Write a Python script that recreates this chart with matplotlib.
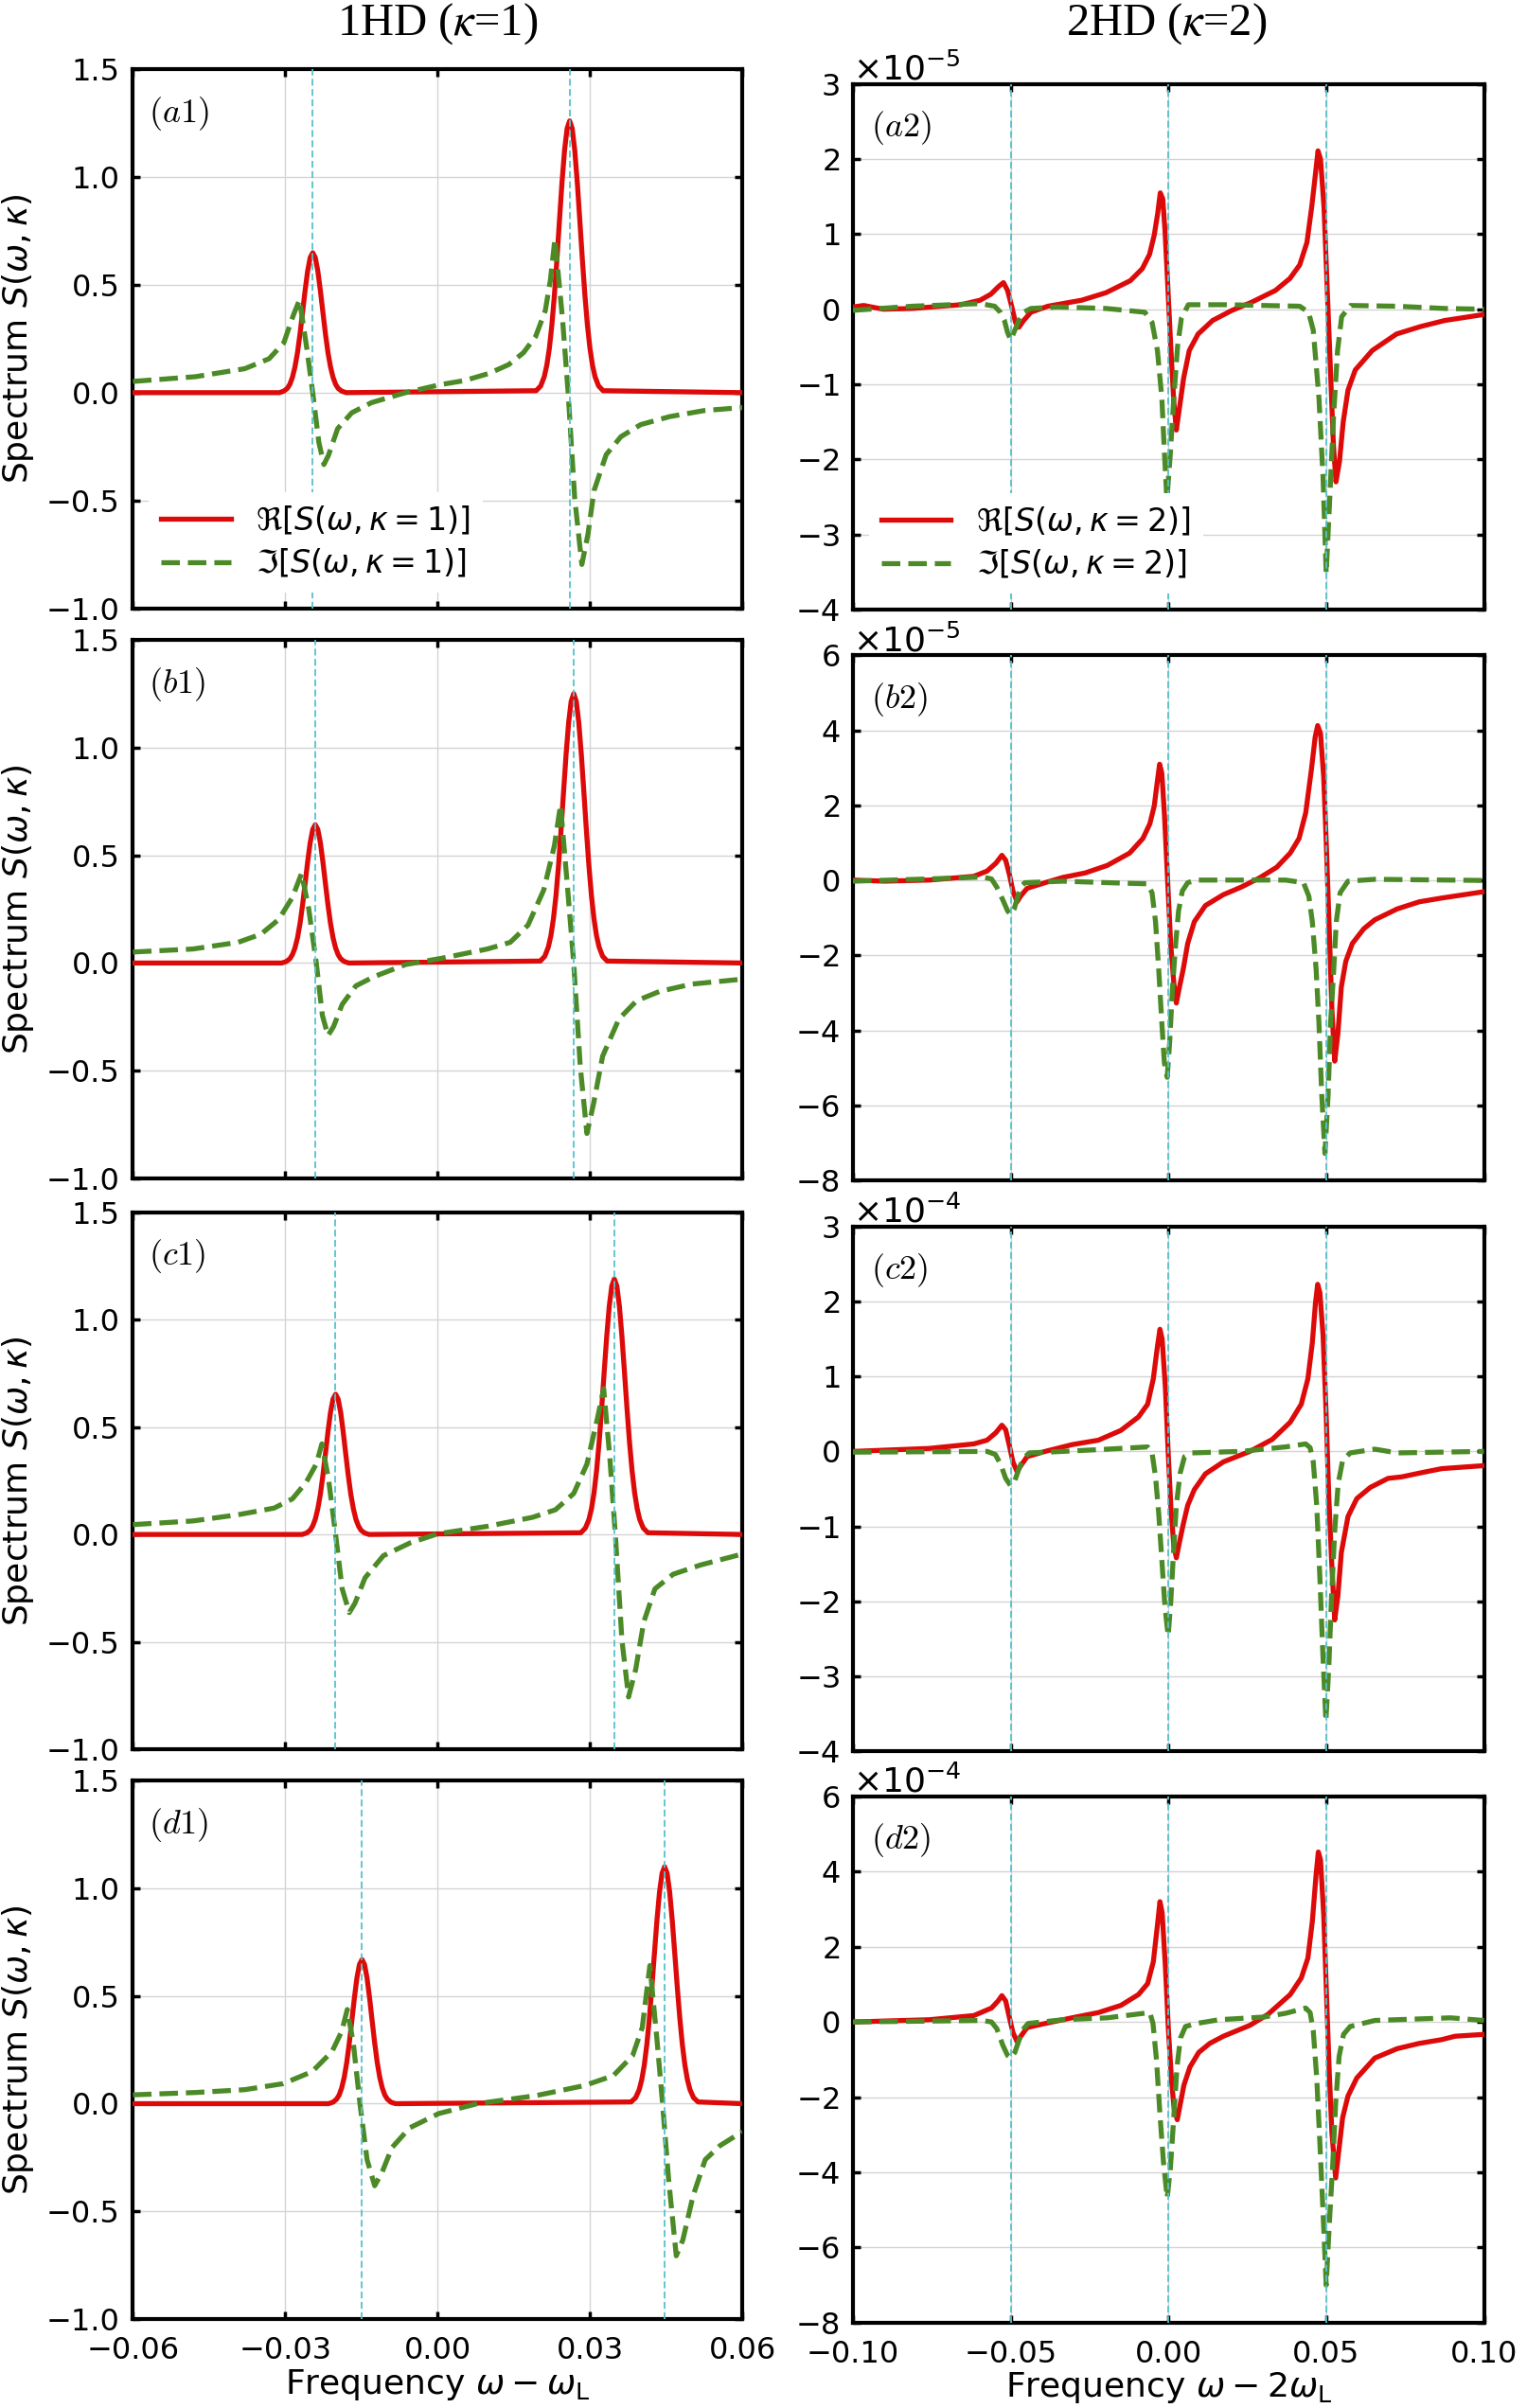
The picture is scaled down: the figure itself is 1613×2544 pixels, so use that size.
import matplotlib
matplotlib.use('Agg')
import matplotlib.pyplot as plt

plt.rcParams['font.family'] = 'DejaVu Sans'
plt.rcParams['mathtext.fontset'] = 'dejavusans'
plt.rcParams['xtick.labelsize'] = 23
plt.rcParams['ytick.labelsize'] = 23

# ---------------- 1HD panels (kappa = 1), x = omega - omega_L ----------------
re_x_a1 = [-0.06,
           -0.0312, -0.0303, -0.0296, -0.0291, -0.0286, -0.0281, -0.0276, -0.0271, -0.0266, -0.0261, -0.0256,
           -0.0251, -0.0246, -0.0241, -0.0236, -0.0231, -0.0226, -0.0221, -0.0216, -0.0211, -0.0206, -0.0201,
           -0.0196, -0.0189, -0.018,
           0.0194, 0.0203, 0.021, 0.0215, 0.022, 0.0225, 0.023, 0.0235, 0.024, 0.0245, 0.025, 0.0255, 0.026,
           0.0265, 0.027, 0.0275, 0.028, 0.0285, 0.029, 0.0295, 0.03, 0.0305, 0.031, 0.0317, 0.0326,
           0.06]
re_y_a1 = [0.0,
           0.0, 0.007, 0.02, 0.039, 0.071, 0.119, 0.186, 0.273, 0.373, 0.474, 0.564, 0.626, 0.648,
           0.626, 0.564, 0.474, 0.373, 0.273, 0.186, 0.119, 0.071, 0.039, 0.02, 0.007, 0.0,
           0.009, 0.031, 0.074, 0.127, 0.205, 0.313, 0.453, 0.619, 0.8, 0.976, 1.124, 1.224, 1.259,
           1.224, 1.124, 0.976, 0.8, 0.619, 0.453, 0.313, 0.205, 0.127, 0.074, 0.031, 0.009,
           0.0]
im_x_a1 = [-0.06, -0.0477, -0.038, -0.0332, -0.0303, -0.0284, -0.0272, -0.0258, -0.0246, -0.0234, -0.0224,
           -0.0215, -0.0197, -0.0169, -0.013, -0.0091, -0.0063, 0.0005, 0.0053, 0.0101, 0.014, 0.0169, 0.0193,
           0.0212, 0.0222, 0.0231, 0.0246, 0.0257, 0.027, 0.0284, 0.0296, 0.0308, 0.0332, 0.0361, 0.04, 0.0457,
           0.0525, 0.06]
im_y_a1 = [0.052, 0.074, 0.111, 0.157, 0.231, 0.36, 0.43, 0.21, 0.0, -0.23, -0.333, -0.29, -0.167, -0.093,
           -0.046, -0.019, 0.0, 0.037, 0.056, 0.089, 0.13, 0.185, 0.26, 0.38, 0.52, 0.713, 0.34, 0.0, -0.49,
           -0.796, -0.657, -0.454, -0.287, -0.204, -0.148, -0.111, -0.083, -0.069]

re_x_b1 = [-0.06,
           -0.0307, -0.0298, -0.0291, -0.0286, -0.0281, -0.0276, -0.0271, -0.0266, -0.0261, -0.0256, -0.0251,
           -0.0246, -0.0241, -0.0236, -0.0231, -0.0226, -0.0221, -0.0216, -0.0211, -0.0206, -0.0201, -0.0196,
           -0.0191, -0.0184, -0.0175,
           0.0202, 0.0211, 0.0218, 0.0223, 0.0228, 0.0233, 0.0238, 0.0243, 0.0248, 0.0253, 0.0258, 0.0263,
           0.0268, 0.0273, 0.0278, 0.0283, 0.0288, 0.0293, 0.0298, 0.0303, 0.0308, 0.0313, 0.0318, 0.0325,
           0.0334,
           0.06]
re_y_b1 = [0.0,
           0.0, 0.007, 0.02, 0.039, 0.07, 0.117, 0.184, 0.27, 0.369, 0.47, 0.559, 0.62, 0.642,
           0.62, 0.559, 0.47, 0.369, 0.27, 0.184, 0.117, 0.07, 0.039, 0.02, 0.007, 0.0,
           0.009, 0.031, 0.074, 0.126, 0.204, 0.311, 0.45, 0.615, 0.794, 0.969, 1.116, 1.215, 1.25,
           1.215, 1.116, 0.969, 0.794, 0.615, 0.45, 0.311, 0.204, 0.126, 0.074, 0.031, 0.009,
           0.0]
im_x_b1 = [-0.06, -0.0482, -0.0393, -0.0348, -0.0313, -0.0286, -0.0268, -0.0254, -0.0239, -0.0227, -0.0216,
           -0.0205, -0.0188, -0.0161, -0.0125, -0.0063, 0.0008, 0.0098, 0.0143, 0.0178, 0.0209, 0.023, 0.0242,
           0.0255, 0.0268, 0.0281, 0.0294, 0.0307, 0.0325, 0.0357, 0.0392, 0.0437, 0.05, 0.06]
im_y_b1 = [0.051, 0.065, 0.096, 0.134, 0.202, 0.305, 0.416, 0.253, 0.0, -0.243, -0.337, -0.295, -0.192,
           -0.106, -0.063, -0.007, 0.022, 0.065, 0.096, 0.176, 0.339, 0.545, 0.733, 0.373, 0.0, -0.483, -0.791,
           -0.654, -0.432, -0.26, -0.175, -0.132, -0.098, -0.075]

re_x_c1 = [-0.06,
           -0.0267, -0.0258, -0.0251, -0.0246, -0.0241, -0.0236, -0.0231, -0.0226, -0.0221, -0.0216, -0.0211,
           -0.0206, -0.0201, -0.0196, -0.0191, -0.0186, -0.0181, -0.0176, -0.0171, -0.0166, -0.0161, -0.0156,
           -0.0151, -0.0144, -0.0135,
           0.0282, 0.0291, 0.0298, 0.0303, 0.0308, 0.0313, 0.0318, 0.0323, 0.0328, 0.0333, 0.0338, 0.0343,
           0.0348, 0.0353, 0.0358, 0.0363, 0.0368, 0.0373, 0.0378, 0.0383, 0.0388, 0.0393, 0.0398, 0.0405,
           0.0414,
           0.06]
re_y_c1 = [0.0,
           0.0, 0.007, 0.02, 0.04, 0.071, 0.12, 0.187, 0.275, 0.375, 0.478, 0.569, 0.631, 0.653,
           0.631, 0.569, 0.478, 0.375, 0.275, 0.187, 0.12, 0.071, 0.04, 0.02, 0.007, 0.0,
           0.008, 0.03, 0.07, 0.12, 0.194, 0.296, 0.428, 0.585, 0.756, 0.922, 1.063, 1.157, 1.19,
           1.157, 1.063, 0.922, 0.756, 0.585, 0.428, 0.296, 0.194, 0.12, 0.07, 0.03, 0.008,
           0.0]
im_x_c1 = [-0.06, -0.0482, -0.0393, -0.0322, -0.0286, -0.0259, -0.0239, -0.0228, -0.0215, -0.0201, -0.0188,
           -0.0174, -0.0163, -0.0143, -0.0107, -0.0054, 0.0, 0.0098, 0.0187, 0.0232, 0.0268, 0.0294, 0.0314,
           0.0327, 0.0339, 0.035, 0.0363, 0.0376, 0.039, 0.0406, 0.0428, 0.0464, 0.0518, 0.06]
im_y_c1 = [0.046, 0.063, 0.092, 0.123, 0.166, 0.243, 0.328, 0.422, 0.26, 0.0, -0.253, -0.364, -0.321,
           -0.202, -0.099, -0.039, 0.003, 0.038, 0.08, 0.115, 0.191, 0.328, 0.533, 0.679, 0.362, 0.0, -0.492,
           -0.757, -0.629, -0.407, -0.253, -0.185, -0.142, -0.091]

re_x_d1 = [-0.06,
           -0.0215, -0.0206, -0.0199, -0.0194, -0.0189, -0.0184, -0.0179, -0.0174, -0.0169, -0.0164, -0.0159,
           -0.0154, -0.0149, -0.0144, -0.0139, -0.0134, -0.0129, -0.0124, -0.0119, -0.0114, -0.0109, -0.0104,
           -0.0099, -0.0092, -0.0083,
           0.0381, 0.039, 0.0397, 0.0402, 0.0407, 0.0412, 0.0417, 0.0422, 0.0427, 0.0432, 0.0437, 0.0442,
           0.0447, 0.0452, 0.0457, 0.0462, 0.0467, 0.0472, 0.0477, 0.0482, 0.0487, 0.0492, 0.0497, 0.0504,
           0.0513,
           0.06]
re_y_d1 = [0.0,
           0.0, 0.007, 0.021, 0.04, 0.073, 0.122, 0.192, 0.282, 0.385, 0.49, 0.583, 0.646, 0.669,
           0.646, 0.583, 0.49, 0.385, 0.282, 0.192, 0.122, 0.073, 0.04, 0.021, 0.007, 0.0,
           0.008, 0.028, 0.065, 0.111, 0.179, 0.274, 0.396, 0.541, 0.699, 0.853, 0.982, 1.069, 1.10,
           1.069, 0.982, 0.853, 0.699, 0.541, 0.396, 0.274, 0.179, 0.111, 0.065, 0.028, 0.008,
           0.0]
im_x_d1 = [-0.06, -0.0476, -0.038, -0.0304, -0.0247, -0.0208, -0.0189, -0.0178, -0.0166, -0.0153, -0.0139,
           -0.0124, -0.0109, -0.009, -0.0055, 0.0002, 0.0078, 0.0193, 0.0289, 0.0346, 0.0384, 0.0403, 0.0418,
           0.0432, 0.0443, 0.0455, 0.047, 0.0483, 0.0503, 0.0527, 0.0556, 0.06]
im_y_d1 = [0.041, 0.052, 0.065, 0.093, 0.149, 0.242, 0.335, 0.437, 0.279, 0.0, -0.26, -0.381, -0.316,
           -0.204, -0.112, -0.046, 0.0, 0.037, 0.084, 0.13, 0.223, 0.353, 0.641, 0.297, 0.0, -0.353, -0.706,
           -0.632, -0.428, -0.26, -0.195, -0.13]

# resonance positions (cyan dashed lines)
res_1 = [[-0.0246, 0.026], [-0.0241, 0.0268], [-0.0201, 0.0348], [-0.0149, 0.0447]]

# ---------------- 2HD panels (kappa = 2), x = omega - 2 omega_L ----------------
# values in units of scale_2
scale_2 = [1e-5, 1e-5, 1e-4, 1e-4]

re_x_a2 = [-0.1, -0.0966, -0.0904, -0.0812, -0.0658, -0.0597, -0.0563, -0.0539, -0.0523, -0.051,
           -0.0497, -0.0485, -0.0474, -0.0459, -0.0436, -0.0382, -0.0275, -0.0198, -0.0121, -0.0083,
           -0.006, -0.0045, -0.0034, -0.0026, -0.0018, -0.0011, -0.0002, 0.0008, 0.0017, 0.0025,
           0.0032, 0.0048, 0.0066, 0.0094, 0.014, 0.0201, 0.0262, 0.0339, 0.0385, 0.0416,
           0.0439, 0.0454, 0.0467, 0.0474, 0.0482, 0.0493, 0.0503, 0.0513, 0.0523, 0.0531,
           0.0542, 0.0554, 0.0569, 0.0592, 0.0646, 0.0723, 0.08, 0.0876, 0.1]
re_y_a2 = [0.03, 0.05, 0.0, 0.01, 0.06, 0.12, 0.2, 0.3, 0.355, 0.25,
           0.04, -0.175, -0.24, -0.15, -0.04, 0.04, 0.12, 0.22, 0.38, 0.54,
           0.73, 0.99, 1.28, 1.55, 1.47, 1.05, 0.3, -0.55, -1.24, -1.61,
           -1.4, -0.92, -0.55, -0.33, -0.15, -0.016, 0.09, 0.25, 0.41, 0.59,
           0.89, 1.36, 1.84, 2.11, 2.0, 1.36, 0.3, -0.76, -1.82, -2.3,
           -2.03, -1.5, -1.08, -0.81, -0.55, -0.33, -0.23, -0.15, -0.07]
im_x_a2 = [-0.1, -0.0812, -0.0597, -0.0551, -0.0533, -0.052, -0.051, -0.05, -0.049, -0.0474,
           -0.0459, -0.0436, -0.0351, -0.0198, -0.0075, -0.0052, -0.0035, -0.0021, -0.0012, -0.0005,
           0.0005, 0.0017, 0.0029, 0.0041, 0.0063, 0.0186, 0.0416, 0.0444, 0.0459, 0.0477,
           0.049, 0.05, 0.0511, 0.0523, 0.0536, 0.0549, 0.0577, 0.0723, 0.0876, 0.1]
im_y_a2 = [-0.015, 0.04, 0.075, 0.04, -0.04, -0.15, -0.31, -0.41, -0.31, -0.15,
           -0.04, 0.01, 0.03, 0.01, -0.04, -0.175, -0.55, -1.18, -1.98, -2.54,
           -1.98, -1.18, -0.49, -0.12, 0.06, 0.06, 0.04, -0.04, -0.28, -1.18,
           -2.24, -3.52, -2.54, -1.45, -0.55, -0.1, 0.05, 0.04, 0.01, 0.0]

re_x_b2 = [-0.1, -0.09, -0.0758, -0.0617, -0.0575, -0.0547, -0.0528, -0.0516, -0.0504, -0.0493,
           -0.048, -0.0468, -0.0448, -0.0391, -0.0335, -0.0264, -0.0194, -0.0123, -0.0081, -0.0059,
           -0.0045, -0.0035, -0.0028, -0.0021, -0.0013, -0.0003, 0.0007, 0.0017, 0.0025, 0.0035,
           0.0047, 0.0061, 0.0082, 0.0117, 0.0174, 0.023, 0.0287, 0.0343, 0.0386, 0.0414,
           0.0435, 0.0453, 0.0465, 0.0473, 0.0482, 0.0492, 0.0501, 0.051, 0.0518, 0.0527,
           0.0537, 0.0548, 0.0562, 0.0583, 0.0619, 0.0654, 0.0725, 0.0795, 0.0866, 0.1]
re_y_b2 = [0.01, -0.02, 0.01, 0.11, 0.25, 0.46, 0.67, 0.54, 0.15, -0.28,
           -0.57, -0.41, -0.21, -0.06, 0.08, 0.2, 0.4, 0.73, 1.12, 1.51,
           1.99, 2.66, 3.1, 2.86, 1.8, 0.06, -1.68, -2.74, -3.27, -2.84,
           -2.36, -1.68, -1.1, -0.67, -0.38, -0.18, 0.06, 0.35, 0.73, 1.12,
           1.8, 2.95, 3.82, 4.13, 3.92, 2.76, 0.83, -1.39, -3.42, -4.82,
           -4.09, -2.84, -2.16, -1.68, -1.29, -1.05, -0.76, -0.57, -0.47, -0.3]
im_x_b2 = [-0.1, -0.0758, -0.0589, -0.0561, -0.0544, -0.0525, -0.051, -0.05, -0.0489, -0.0476,
           -0.0465, -0.0455, -0.0335, -0.0194, -0.0066, -0.0052, -0.0041, -0.0031, -0.0021, -0.0013,
           -0.0004, 0.0004, 0.0013, 0.0023, 0.0032, 0.0044, 0.0061, 0.0089, 0.0371, 0.0428,
           0.0445, 0.0456, 0.0468, 0.0477, 0.0486, 0.0496, 0.0506, 0.0514, 0.0524, 0.0532,
           0.0544, 0.0569, 0.0654, 0.1]
im_y_b2 = [-0.02, 0.04, 0.09, 0.04, -0.18, -0.52, -0.81, -0.91, -0.76, -0.38,
           -0.14, -0.06, -0.02, -0.06, -0.09, -0.33, -1.1, -2.36, -3.8, -4.86,
           -5.25, -4.29, -2.84, -1.68, -0.81, -0.28, -0.06, 0.01, 0.01, -0.06,
           -0.42, -1.1, -2.36, -3.8, -5.73, -7.28, -5.73, -3.8, -2.36, -1.1,
           -0.33, -0.02, 0.03, 0.0]

re_x_c2 = [-0.1, -0.0758, -0.0617, -0.0575, -0.0547, -0.0528, -0.0516, -0.0504, -0.0493, -0.048,
           -0.0468, -0.0448, -0.0391, -0.0306, -0.0222, -0.0151, -0.0095, -0.0066, -0.0048, -0.0035,
           -0.0027, -0.002, -0.001, -0.0001, 0.0008, 0.0017, 0.0025, 0.0035, 0.0047, 0.0061,
           0.0082, 0.0117, 0.0174, 0.0258, 0.0329, 0.0386, 0.0421, 0.0442, 0.0456, 0.0466,
           0.0473, 0.048, 0.049, 0.05, 0.0508, 0.0517, 0.0527, 0.0537, 0.0548, 0.0569,
           0.0597, 0.064, 0.0696, 0.0739, 0.0795, 0.0866, 0.1]
re_y_c2 = [0.0, 0.04, 0.1, 0.15, 0.25, 0.35, 0.29, 0.07, -0.14, -0.27,
           -0.19, -0.07, 0.0, 0.09, 0.15, 0.28, 0.46, 0.63, 0.97, 1.4,
           1.63, 1.5, 0.87, 0.0, -0.77, -1.26, -1.42, -1.21, -0.97, -0.72,
           -0.51, -0.3, -0.14, 0.0, 0.16, 0.39, 0.63, 0.97, 1.45, 1.98,
           2.23, 2.12, 1.55, 0.48, -0.58, -1.45, -2.25, -1.93, -1.35, -0.87,
           -0.63, -0.48, -0.36, -0.34, -0.29, -0.23, -0.19]
im_x_c2 = [-0.1, -0.0575, -0.0549, -0.0532, -0.0516, -0.05, -0.0487, -0.0473, -0.0459, -0.0441,
           -0.0335, -0.0194, -0.0066, -0.0052, -0.0041, -0.0031, -0.0021, -0.0011, -0.0001, 0.0007,
           0.0016, 0.0025, 0.0037, 0.0051, 0.0075, 0.023, 0.0371, 0.0435, 0.0449, 0.0459,
           0.047, 0.048, 0.0489, 0.0499, 0.0508, 0.0517, 0.0527, 0.0538, 0.0552, 0.0576,
           0.0654, 0.0725, 0.1]
im_y_c2 = [-0.01, 0.0, -0.04, -0.17, -0.36, -0.46, -0.39, -0.22, -0.09, -0.02,
           0.0, 0.03, 0.06, -0.02, -0.34, -0.82, -1.45, -2.08, -2.46, -2.03,
           -1.35, -0.72, -0.29, -0.07, -0.02, 0.0, 0.06, 0.1, 0.05, -0.14,
           -0.72, -1.69, -2.66, -3.6, -2.9, -1.93, -1.06, -0.43, -0.12, -0.02,
           0.03, -0.02, 0.0]

re_x_d2 = [-0.1, -0.0758, -0.0617, -0.0561, -0.054, -0.0528, -0.0516, -0.0504, -0.0493, -0.048,
           -0.0468, -0.0448, -0.0391, -0.0306, -0.0222, -0.0151, -0.0095, -0.0066, -0.0048, -0.0035,
           -0.0027, -0.002, -0.001, 0.0, 0.001, 0.0018, 0.0028, 0.0038, 0.0049, 0.0068,
           0.0096, 0.0131, 0.0174, 0.0258, 0.0315, 0.0386, 0.0421, 0.0442, 0.0456, 0.0468,
           0.0475, 0.0482, 0.0492, 0.0501, 0.051, 0.0518, 0.053, 0.054, 0.0552, 0.0569,
           0.0597, 0.0654, 0.0725, 0.0795, 0.0866, 0.0908, 0.1]
re_y_d2 = [0.0, 0.06, 0.17, 0.37, 0.56, 0.7, 0.56, 0.11, -0.28, -0.52,
           -0.38, -0.15, -0.04, 0.11, 0.25, 0.44, 0.73, 1.02, 1.6, 2.57,
           3.2, 2.91, 1.51, -0.23, -1.58, -2.31, -2.6, -2.16, -1.68, -1.2,
           -0.81, -0.57, -0.38, -0.09, 0.2, 0.73, 1.17, 1.7, 2.67, 3.92,
           4.52, 4.31, 2.86, 0.73, -1.39, -2.94, -4.15, -3.42, -2.55, -1.97,
           -1.49, -0.96, -0.71, -0.57, -0.47, -0.38, -0.33]
im_x_d2 = [-0.1, -0.0589, -0.0561, -0.0544, -0.0525, -0.051, -0.05, -0.0487, -0.0473, -0.0459,
           -0.0445, -0.0335, -0.0194, -0.0059, -0.0049, -0.0038, -0.0027, -0.0016, -0.0004, 0.0006,
           0.0016, 0.0027, 0.0038, 0.0054, 0.0089, 0.016, 0.0301, 0.0371, 0.0435, 0.0449,
           0.0459, 0.047, 0.048, 0.049, 0.05, 0.051, 0.052, 0.053, 0.0541, 0.0555,
           0.0576, 0.0654, 0.0894, 0.1]
im_y_d2 = [0.0, 0.04, 0.0, -0.18, -0.62, -0.89, -0.96, -0.81, -0.47, -0.18,
           -0.04, 0.06, 0.11, 0.25, -0.04, -1.0, -2.45, -3.71, -4.68, -3.9,
           -2.65, -1.2, -0.43, -0.12, -0.04, 0.06, 0.13, 0.23, 0.37, 0.25,
           -0.23, -1.49, -3.23, -5.06, -7.0, -5.35, -3.9, -2.16, -0.91, -0.33,
           -0.12, 0.04, 0.11, 0.04]

res_2 = [-0.05, 0.0, 0.05]
ylims_2 = [(-4, 3), (-8, 6), (-4, 3), (-8, 6)]
ysteps_2 = [1, 2, 1, 2]

panel_tags = ['a', 'b', 'c', 'd']
xticks_1 = [-0.06, -0.03, 0.0, 0.03, 0.06]
yticks_1 = [-1.0, -0.5, 0.0, 0.5, 1.0, 1.5]
xticks_2 = [-0.1, -0.05, 0.0, 0.05, 0.1]

left_1 = [(re_x_a1, re_y_a1, im_x_a1, im_y_a1), (re_x_b1, re_y_b1, im_x_b1, im_y_b1),
          (re_x_c1, re_y_c1, im_x_c1, im_y_c1), (re_x_d1, re_y_d1, im_x_d1, im_y_d1)]
right_2 = [(re_x_a2, re_y_a2, im_x_a2, im_y_a2), (re_x_b2, re_y_b2, im_x_b2, im_y_b2),
           (re_x_c2, re_y_c2, im_x_c2, im_y_c2), (re_x_d2, re_y_d2, im_x_d2, im_y_d2)]

red = '#dd0a0a'
green = '#4b8a26'
cyan = '#55c3cc'

# axes rectangles (figure fraction)
rects_1 = [[0.0871, 0.7473, 0.3990, 0.2241], [0.0871, 0.5106, 0.3990, 0.2237],
           [0.0871, 0.2736, 0.3990, 0.2229], [0.0871, 0.0369, 0.3990, 0.2237]]
rects_2 = [[0.5586, 0.7469, 0.4132, 0.2182], [0.5586, 0.5098, 0.4132, 0.2180],
           [0.5586, 0.2728, 0.4132, 0.2178], [0.5586, 0.0354, 0.4132, 0.2186]]


def style_axes(ax):
    for sp in ax.spines.values():
        sp.set_linewidth(3.0)
        sp.set_color('black')
    ax.tick_params(direction='in', length=6, width=2.5, top=True, right=True,
                   labelsize=23, pad=10)
    ax.tick_params(axis='x', pad=13)
    ax.grid(True, color='#d4d4d4', linewidth=1.0)
    ax.set_axisbelow(True)


def add_legend(ax):
    ax.legend(loc='lower left', fontsize=24, handlelength=2.2, handletextpad=0.8,
              labelspacing=0.35, frameon=True, framealpha=1, edgecolor='none',
              fancybox=False, borderaxespad=0.5)


fig = plt.figure(figsize=(16.13, 25.44), dpi=100)

for i in range(4):
    # left column
    ax = fig.add_axes(rects_1[i])
    rx, ry, ix, iy = left_1[i]
    style_axes(ax)
    ax.plot(rx, ry, color=red, lw=3.8, solid_joinstyle='round', label=r'$\Re[S(\omega,\kappa=1)]$', zorder=3)
    ax.plot(ix, iy, color=green, lw=3.8, ls='--', label=r'$\Im[S(\omega,\kappa=1)]$', zorder=4)
    for xv in res_1[i]:
        ax.axvline(xv, color=cyan, lw=1.3, ls=(0, (4, 2)), zorder=5)
    ax.set_xlim(-0.06, 0.06)
    ax.set_ylim(-1.0, 1.5)
    ax.set_xticks(xticks_1)
    ax.set_yticks(yticks_1)
    ax.set_ylabel(r'Spectrum $S(\omega,\kappa)$', fontsize=26, labelpad=8)
    if i < 3:
        ax.tick_params(labelbottom=False)
    else:
        ax.set_xlabel(r'Frequency $\omega-\omega_\mathrm{L}$', fontsize=26, labelpad=1)
    ax.text(0.026, 0.918, r'$(' + panel_tags[i] + '1)$', transform=ax.transAxes, fontsize=26,
            math_fontfamily='cm', ha='left', va='center')
    if i == 0:
        add_legend(ax)

    # right column
    ax = fig.add_axes(rects_2[i])
    rx, ry, ix, iy = right_2[i]
    s = scale_2[i]
    style_axes(ax)
    ax.plot(rx, [v * s for v in ry], color=red, lw=3.8, solid_joinstyle='round',
            label=r'$\Re[S(\omega,\kappa=2)]$', zorder=3)
    ax.plot(ix, [v * s for v in iy], color=green, lw=3.8, ls='--',
            label=r'$\Im[S(\omega,\kappa=2)]$', zorder=4)
    for xv in res_2:
        ax.axvline(xv, color=cyan, lw=1.3, ls=(0, (4, 2)), zorder=5)
    lo, hi = ylims_2[i]
    ax.set_xlim(-0.1, 0.1)
    ax.set_ylim(lo * s, hi * s)
    ax.set_xticks(xticks_2)
    ax.set_yticks([k * s for k in range(lo, hi + 1, ysteps_2[i])])
    ax.ticklabel_format(axis='y', style='sci', scilimits=(0, 0), useMathText=True)
    ax.yaxis.get_offset_text().set_fontsize(26)
    if i < 3:
        ax.tick_params(labelbottom=False)
    else:
        ax.set_xlabel(r'Frequency $\omega-2\omega_\mathrm{L}$', fontsize=26, labelpad=1)
    ax.text(0.029, 0.917, r'$(' + panel_tags[i] + '2)$', transform=ax.transAxes, fontsize=26,
            math_fontfamily='cm', ha='left', va='center')
    if i == 0:
        add_legend(ax)

fig.text(0.2865, 0.9900, r'1HD ($\kappa$=1)', fontsize=35, fontfamily='Liberation Serif',
         math_fontfamily='stix', ha='center', va='center')
fig.text(0.7640, 0.9900, r'2HD ($\kappa$=2)', fontsize=35, fontfamily='Liberation Serif',
         math_fontfamily='stix', ha='center', va='center')

fig.savefig('out.png', dpi=100)
